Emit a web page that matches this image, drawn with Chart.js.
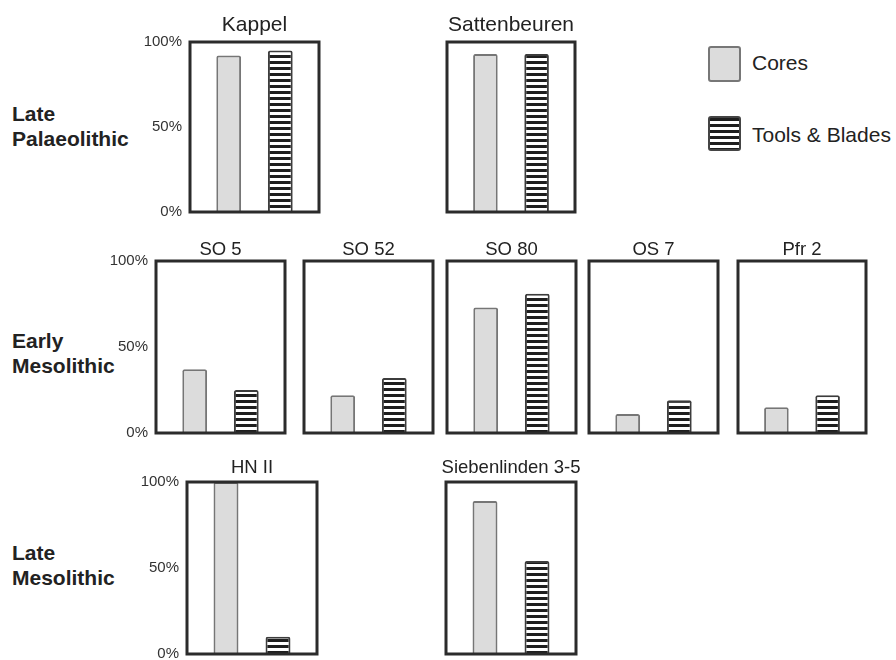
<!DOCTYPE html>
<html>
<head>
<meta charset="utf-8">
<script src="https://cdn.jsdelivr.net/npm/chart.js@4.4.1/dist/chart.umd.min.js"></script>
<style>
  html, body { margin: 0; padding: 0; background: #fff; }
  body { width: 896px; height: 660px; position: relative; overflow: hidden;
         font-family: "Liberation Sans", Arial, Helvetica, sans-serif; color: #222; }
  canvas { position: absolute; }
  .period { position: absolute; left: 12px; font-weight: bold; font-size: 21px; line-height: 25px; color: #222; }
  .sw { position: absolute; box-sizing: border-box; border-radius: 3px; }
  .sw.cores { background: #dcdcdc; border: 2px solid #777; }
  .sw.tools { border: 2px solid #444;
              background: repeating-linear-gradient(to bottom, #1e1e1e 0px, #1e1e1e 3px, #fff 3px, #fff 6px); }
  .lg { position: absolute; left: 752px; font-size: 21px; line-height: 24px; color: #222; white-space: nowrap; }
</style>
</head>
<body>
<div class="period" style="top:101px">Late<br>Palaeolithic</div>
<div class="period" style="top:328px">Early<br>Mesolithic</div>
<div class="period" style="top:540px">Late<br>Mesolithic</div>

<div class="sw cores" style="left:708px;top:46px;width:33px;height:36px"></div>
<div class="lg" style="top:51px">Cores</div>
<div class="sw tools" style="left:708px;top:116px;width:33px;height:35px"></div>
<div class="lg" style="top:123px">Tools &amp; Blades</div>

<script>
// Sites and their shares (%) of cores and of tools & blades
const sites = ['Kappel', 'Sattenbeuren', 'SO 5', 'SO 52', 'SO 80', 'OS 7', 'Pfr 2', 'HN II', 'Siebenlinden 3-5'];
const coresPct = [92, 93, 37, 22, 73, 11, 15, 100, 89];
const toolsPct = [95, 93, 25, 32, 81, 19, 22, 10, 54];
const siteRow = [0, 0, 1, 1, 1, 1, 1, 2, 2];
const tickValues = [0, 50, 100];
const seriesNames = ['Cores', 'Tools & Blades'];

// Panel frames on the page
const rowTop = [42, 261, 482];
const rowBottom = [212, 433, 654];
const titleGap = [11, 6, 9];
const titleSize = [21, 18.5, 18.5];
const panelLeft = [190, 447, 156, 304, 447, 589, 738, 187, 446];
const panelRight = [319, 575, 285, 433, 576, 718, 866, 317, 576];

const FONT = '"Liberation Sans", Arial, Helvetica, sans-serif';
const AXIS_W = 50;
const PAD = { left: 16, right: 16, top: 32, bottom: 24 };

function stripes(ctx) {
  const c = document.createElement('canvas');
  c.width = 4; c.height = 6;
  const g = c.getContext('2d');
  g.fillStyle = '#fff'; g.fillRect(0, 0, 4, 6);
  g.fillStyle = '#1e1e1e'; g.fillRect(0, 3, 4, 3);
  return ctx.createPattern(c, 'repeat');
}

// Heavy frame around each plot area, with the site name above it
const framePlugin = {
  id: 'frame',
  afterDatasetsDraw(chart, args, opts) {
    const { ctx, chartArea: a } = chart;
    ctx.save();
    ctx.strokeStyle = '#2b2b2b';
    ctx.lineWidth = 3;
    ctx.strokeRect(a.left, a.top, a.right - a.left, a.bottom - a.top);
    ctx.fillStyle = '#222';
    ctx.font = `${opts.size}px ${FONT}`;
    ctx.textAlign = 'center';
    ctx.textBaseline = 'alphabetic';
    ctx.fillText(opts.text, (a.left + a.right) / 2, a.top - opts.gap);
    ctx.restore();
  }
};

sites.forEach((name, i) => {
  const row = siteRow[i];
  const first = siteRow.indexOf(row) === i;
  const axisW = first ? AXIS_W : 0;
  const boxW = panelRight[i] - panelLeft[i];
  const boxH = rowBottom[row] - rowTop[row];

  const canvas = document.createElement('canvas');
  const cw = boxW + axisW + PAD.left + PAD.right;
  const chh = boxH + PAD.top + PAD.bottom;
  canvas.width = cw; canvas.height = chh;
  canvas.style.width = cw + 'px'; canvas.style.height = chh + 'px';
  canvas.style.left = (panelLeft[i] - axisW - PAD.left) + 'px';
  canvas.style.top = (rowTop[row] - PAD.top) + 'px';
  document.body.appendChild(canvas);
  const ctx = canvas.getContext('2d');

  new Chart(ctx, {
    type: 'bar',
    data: {
      labels: [''],
      datasets: [
        { label: seriesNames[0], data: [coresPct[i]], backgroundColor: '#dcdcdc',
          borderColor: '#767676', borderWidth: 2, borderRadius: 2,
          categoryPercentage: 0.8, barPercentage: 0.48 },
        { label: seriesNames[1], data: [toolsPct[i]], backgroundColor: stripes(ctx),
          borderColor: '#3c3c3c', borderWidth: 2, borderRadius: 2,
          categoryPercentage: 0.8, barPercentage: 0.48 }
      ]
    },
    options: {
      responsive: false,
      animation: false,
      devicePixelRatio: 1,
      layout: { padding: PAD },
      plugins: {
        legend: { display: false },
        tooltip: { enabled: false },
        title: { display: false },
        frame: { text: name, size: titleSize[row], gap: titleGap[row] }
      },
      scales: {
        x: { display: false },
        y: {
          display: first,
          min: 0, max: 100,
          afterBuildTicks: s => { s.ticks = tickValues.map(v => ({ value: v })); },
          afterFit: s => { if (first) s.width = axisW; },
          grid: { display: false, drawTicks: false },
          border: { display: false },
          ticks: { padding: 8, color: '#333', font: { family: FONT, size: 15 },
                   callback: v => v + '%' }
        }
      }
    },
    plugins: [framePlugin]
  });
});
</script>
</body>
</html>
